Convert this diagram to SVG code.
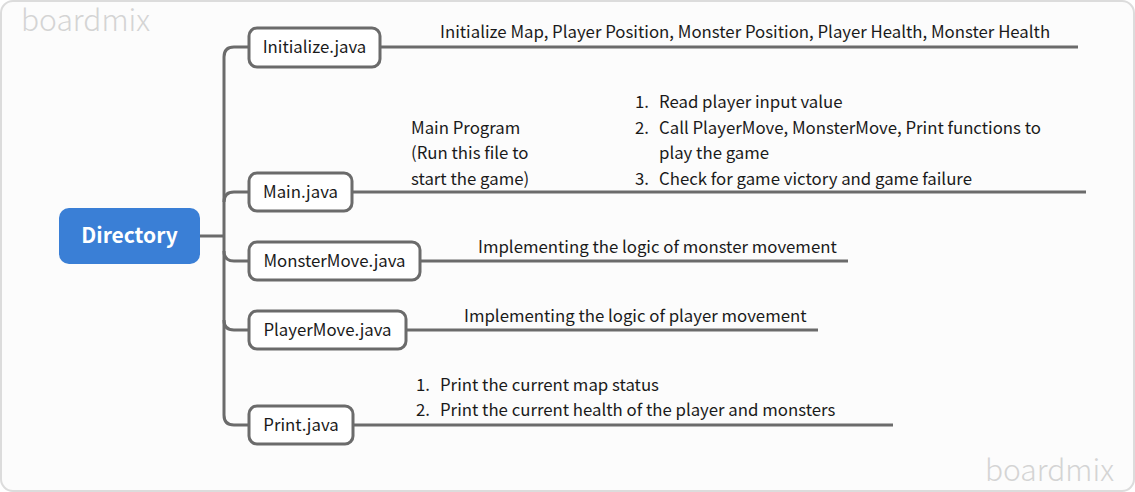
<svg xmlns="http://www.w3.org/2000/svg" width="1135" height="492" viewBox="0 0 1135 492">
<style>
.wm{font-family:"Noto Sans CJK SC","Noto Sans",sans-serif;font-size:30px;font-weight:300;fill:#d4d4d4}
.box{fill:#fff;stroke:#6b6b6b;stroke-width:3}
.lbl{font-family:"Noto Sans CJK SC","Noto Sans",sans-serif;font-size:16.8px;fill:#1a1a1a}
.t{font-family:"Noto Sans CJK SC","Noto Sans",sans-serif;font-size:16.8px;fill:#1a1a1a}
.c{fill:none;stroke:#6b6b6b;stroke-width:3}
</style>
<rect x="1" y="1" width="1133" height="490" rx="12" fill="#fcfcfc" stroke="#dcdcdc" stroke-width="2"/>
<text class="wm" x="21" y="31">boardmix</text>
<text class="wm" x="1114" y="481" text-anchor="end">boardmix</text>
<g id="connectors">
<path class="c" d="M200 236H224"/>
<path class="c" d="M249 47H234Q224 47 224 57V415Q224 425 234 425H249"/>
<path class="c" d="M224 202Q224 192 234 192H249"/>
<path class="c" d="M224 251Q224 261 234 261H249"/>
<path class="c" d="M224 320Q224 330 234 330H249"/>
<path class="c" d="M380 47H1078"/>
<path class="c" d="M352 192H1086"/>
<path class="c" d="M420 261H848"/>
<path class="c" d="M406 330H818"/>
<path class="c" d="M353 425H893"/>
</g>
<g id="directory">
<rect x="59" y="208" width="141" height="56" rx="10" fill="#3a7fd6"/>
<text x="129.500" y="243" text-anchor="middle" font-family="'Noto Sans CJK SC','Noto Sans',sans-serif" font-size="21" font-weight="600" fill="#fff">Directory</text>
</g>
<g id="initialize">
<rect class="box" x="249" y="28" width="131" height="39" rx="8"/>
<text class="lbl" x="314.500" y="53" text-anchor="middle">Initialize.java</text>
<text class="t" x="440" y="38">Initialize Map, Player Position, Monster Position, Player Health, Monster Health</text>
</g>
<g id="main">
<rect class="box" x="249" y="173" width="103" height="38" rx="8"/>
<text class="lbl" x="300.500" y="198" text-anchor="middle">Main.java</text>
<text class="t" x="411" y="134">Main Program</text>
<text class="t" x="411" y="159">(Run this file to</text>
<text class="t" x="411" y="185">start the game)</text>
<text class="t" x="635" y="108">1.</text>
<text class="t" x="659" y="108">Read player input value</text>
<text class="t" x="635" y="134">2.</text>
<text class="t" x="659" y="134">Call PlayerMove, MonsterMove, Print functions to</text>
<text class="t" x="659" y="159">play the game</text>
<text class="t" x="635" y="185">3.</text>
<text class="t" x="659" y="185">Check for game victory and game failure</text>
</g>
<g id="monstermove">
<rect class="box" x="249" y="242" width="171" height="38" rx="8"/>
<text class="lbl" x="334.500" y="267" text-anchor="middle">MonsterMove.java</text>
<text class="t" x="478" y="253">Implementing the logic of monster movement</text>
</g>
<g id="playermove">
<rect class="box" x="249" y="311" width="157" height="38" rx="8"/>
<text class="lbl" x="327.500" y="336" text-anchor="middle">PlayerMove.java</text>
<text class="t" x="464" y="322">Implementing the logic of player movement</text>
</g>
<g id="print">
<rect class="box" x="249" y="406" width="104" height="38" rx="8"/>
<text class="lbl" x="301" y="431" text-anchor="middle">Print.java</text>
<text class="t" x="416" y="391">1.</text>
<text class="t" x="440" y="391">Print the current map status</text>
<text class="t" x="416" y="416">2.</text>
<text class="t" x="440" y="416">Print the current health of the player and monsters</text>
</g>
</svg>
